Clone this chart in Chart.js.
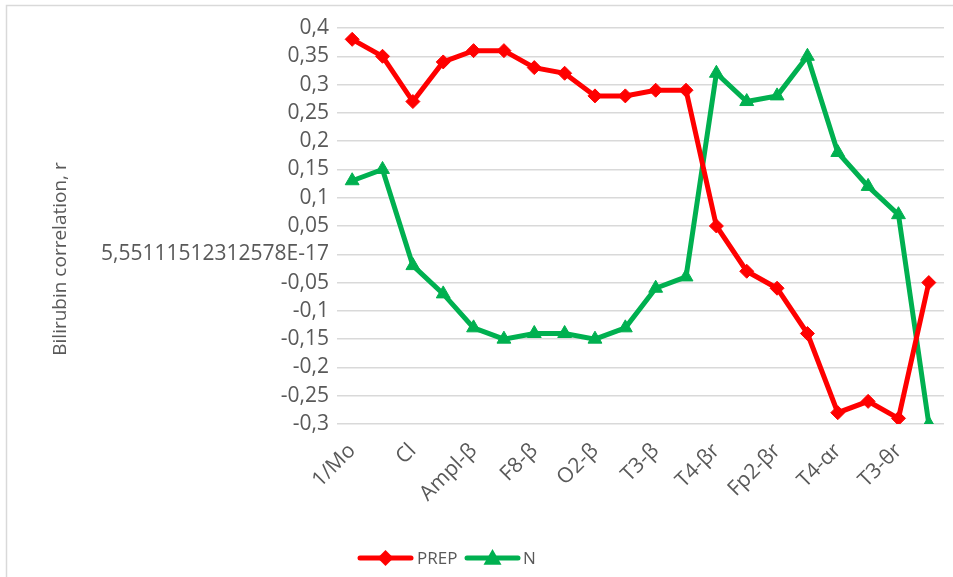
<!DOCTYPE html>
<html>
<head>
<meta charset="utf-8">
<script src="https://cdn.jsdelivr.net/npm/chart.js@4.4.0/dist/chart.umd.min.js"></script>
<style>
  html, body { margin: 0; padding: 0; background: #ffffff; }
  #wrap { width: 953px; height: 577px; position: relative; }
</style>
</head>
<body>
<div id="wrap"><canvas id="c" width="953" height="577"></canvas></div>
<script>
// ---- data ----
const categories = ['1/Mo', '', 'Cl', '', 'Ampl-β', '', 'F8-β', '', 'O2-β', '', 'T3-β', '', 'T4-βr', '', 'Fp2-βr', '', 'T4-αr', '', 'T3-θr', ''];
const prepValues = [0.38, 0.35, 0.27, 0.34, 0.36, 0.36, 0.33, 0.32, 0.28, 0.28, 0.29, 0.29, 0.05, -0.03, -0.06, -0.14, -0.28, -0.26, -0.29, -0.05];
const nValues = [0.13, 0.15, -0.02, -0.07, -0.13, -0.15, -0.14, -0.14, -0.15, -0.13, -0.06, -0.04, 0.32, 0.27, 0.28, 0.35, 0.18, 0.12, 0.07, -0.30];
const yTickValues = [-0.3, -0.25, -0.2, -0.15, -0.1, -0.05, 0, 0.05, 0.1, 0.15, 0.2, 0.25, 0.3, 0.35, 0.4];
const yTickLabels = ['-0,3', '-0,25', '-0,2', '-0,15', '-0,1', '-0,05', '5,55111512312578E-17', '0,05', '0,1', '0,15', '0,2', '0,25', '0,3', '0,35', '0,4'];
const seriesNames = ['PREP', 'N'];
const yTitle = 'Bilirubin correlation, r';

const RED = '#FF0000';
const GREEN = '#00B050';
const TEXT = '#595959';
const FONT = "'Open Sans', sans-serif";

const frame = {
  id: 'frame',
  beforeDraw(chart) {
    const ctx = chart.ctx;
    ctx.save();
    ctx.strokeStyle = '#d9d9d9';
    ctx.lineWidth = 1.5;
    ctx.strokeRect(6.5, 5.5, 1200, 1200);
    ctx.restore();
  }
};

const titlePlugin = {
  id: 'yTitle',
  afterDraw(chart) {
    const ctx = chart.ctx;
    ctx.save();
    ctx.translate(61, 259);
    ctx.rotate(-Math.PI / 2);
    ctx.font = "19px " + FONT;
    ctx.fillStyle = TEXT;
    ctx.textAlign = 'center';
    ctx.textBaseline = 'middle';
    ctx.fillText(yTitle, 0, 0);
    ctx.restore();
  }
};

const legendPlugin = {
  id: 'customLegend',
  afterDraw(chart) {
    const ctx = chart.ctx;
    const y = 558;
    ctx.save();
    ctx.font = "17px " + FONT;
    ctx.textBaseline = 'middle';
    ctx.fillStyle = TEXT;
    const items = [
      { x1: 360, x2: 411, color: RED, shape: 'diamond', tx: 417, text: seriesNames[0] },
      { x1: 467, x2: 518, color: GREEN, shape: 'triangle', tx: 523, text: seriesNames[1] }
    ];
    items.forEach(it => {
      ctx.strokeStyle = it.color;
      ctx.lineWidth = 5;
      ctx.lineCap = 'round';
      ctx.beginPath();
      ctx.moveTo(it.x1, y);
      ctx.lineTo(it.x2, y);
      ctx.stroke();
      const cx = (it.x1 + it.x2) / 2;
      ctx.fillStyle = it.color;
      ctx.beginPath();
      if (it.shape === 'diamond') {
        const r = 8;
        ctx.moveTo(cx, y - r); ctx.lineTo(cx + r, y); ctx.lineTo(cx, y + r); ctx.lineTo(cx - r, y);
      } else {
        const r = 9;
        ctx.moveTo(cx, y - r); ctx.lineTo(cx + r, y + r * 0.75); ctx.lineTo(cx - r, y + r * 0.75);
      }
      ctx.closePath();
      ctx.fill();
      ctx.fillStyle = TEXT;
      ctx.fillText(it.text, it.tx, y + 1);
    });
    ctx.restore();
  }
};

new Chart(document.getElementById('c'), {
  type: 'line',
  data: {
    labels: categories,
    datasets: [
      {
        label: seriesNames[0],
        data: prepValues,
        borderColor: RED,
        backgroundColor: RED,
        borderWidth: 5,
        pointStyle: 'rectRot',
        pointRadius: 7,
        pointBorderWidth: 1,
        tension: 0
      },
      {
        label: seriesNames[1],
        data: nValues,
        borderColor: GREEN,
        backgroundColor: GREEN,
        borderWidth: 5,
        pointStyle: 'triangle',
        pointRadius: 8,
        pointBorderWidth: 1,
        tension: 0
      }
    ]
  },
  options: {
    responsive: false,
    animation: false,
    layout: { padding: { left: 0, right: 8, top: 28, bottom: 0 } },
    plugins: {
      legend: { display: false },
      tooltip: { enabled: false }
    },
    scales: {
      x: {
        offset: true,
        grid: { display: false, drawTicks: false },
        border: { display: false },
        ticks: {
          autoSkip: false,
          maxRotation: 45,
          minRotation: 45,
          color: TEXT,
          font: { family: FONT, size: 21, lineHeight: 1 },
          padding: 16
        },
        afterFit(s) {
          s.height = 577 - 424;
          s.paddingLeft = 0;
          s.paddingRight = 0;
        }
      },
      y: {
        min: -0.3,
        max: 0.4,
        grid: { color: '#d9d9d9', lineWidth: 1.5, drawTicks: false },
        border: { display: false },
        afterBuildTicks(s) { s.ticks = yTickValues.map(v => ({ value: v })); },
        ticks: {
          color: TEXT,
          font: { family: FONT, size: 21 },
          padding: 8,
          callback(v, i) { return yTickLabels[i]; }
        },
        afterFit(s) { s.width = 337; }
      }
    }
  },
  plugins: [frame, titlePlugin, legendPlugin]
});
</script>
</body>
</html>
